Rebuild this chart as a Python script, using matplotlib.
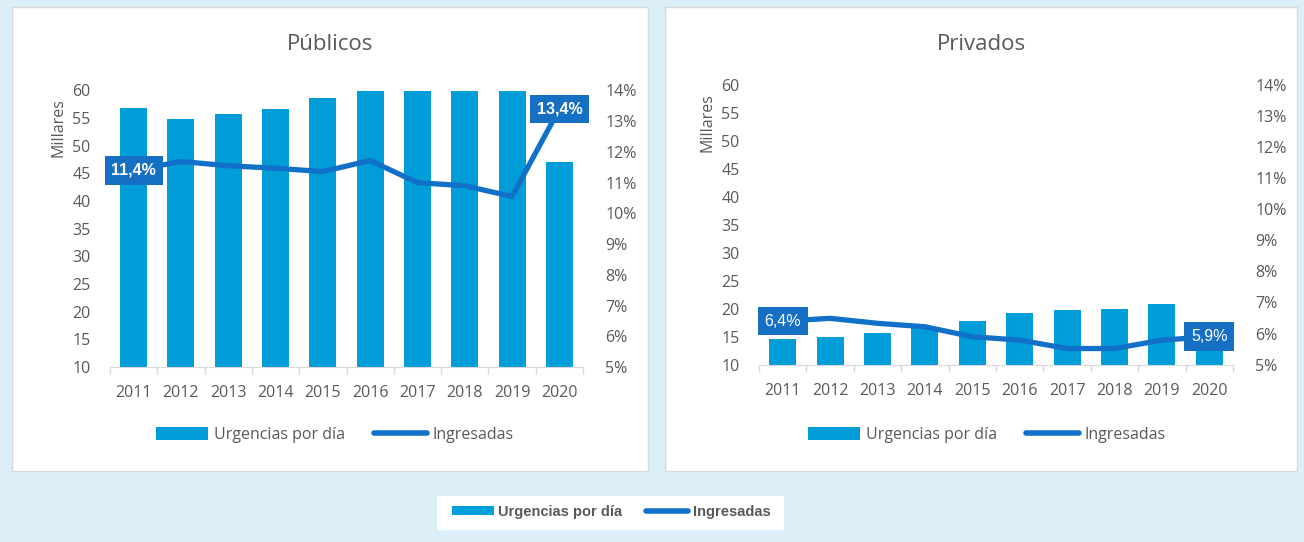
import matplotlib
matplotlib.use("Agg")
import matplotlib.pyplot as plt
from matplotlib.patches import Rectangle, Patch
from matplotlib.lines import Line2D
from matplotlib.ticker import FuncFormatter

# data
years = ["2011", "2012", "2013", "2014", "2015", "2016", "2017", "2018", "2019", "2020"]

# urgencias por dia (millares); publicos 2016-2019 exceed the 60 axis top
pub_urg = [56.9, 54.9, 55.7, 56.6, 58.7, 61.5, 62.0, 62.3, 62.8, 47.0]
pub_ing = [0.114, 0.1169, 0.1155, 0.1147, 0.1136, 0.1172, 0.1100, 0.1090, 0.1055, 0.134]

priv_urg = [14.6, 14.9, 15.6, 16.7, 17.8, 19.3, 19.8, 20.0, 20.9, 13.5]
priv_ing = [0.064, 0.0649, 0.0633, 0.0622, 0.0590, 0.0579, 0.0552, 0.0552, 0.0579, 0.059]

bar_color = "#009DD9"
line_color = "#1170C8"
box_color = "#1570C4"
text_gray = "#595959"
bg_color = "#DCEEF7"

plt.rcParams["font.family"] = ["Open Sans", "DejaVu Sans"]

fig = plt.figure(figsize=(13.04, 5.42), dpi=100)
fig.patch.set_facecolor(bg_color)

W, H = 1304.0, 542.0


def px_rect(x0, y0, x1, y1, **kw):
    # rectangle given in pixel coords (top-left origin)
    fig.patches.append(Rectangle((x0 / W, 1 - y1 / H), (x1 - x0) / W, (y1 - y0) / H,
                                 transform=fig.transFigure, zorder=-5, **kw))


px_rect(12, 7, 648, 471, facecolor="white", edgecolor="#D9D9D9", lw=1)
px_rect(665, 7, 1297, 471, facecolor="white", edgecolor="#D9D9D9", lw=1)
px_rect(437, 496, 784, 530, facecolor="white", edgecolor="none")


def draw_panel(rect, title, urg, ing, first_lbl, last_lbl, bold_lbl, leg_x, title_x):
    ax = fig.add_axes(rect)
    ax.set_facecolor("none")
    x = list(range(len(years)))
    ax.bar(x, urg, width=0.57, color=bar_color, zorder=2)
    ax.set_ylim(10, 60)
    ax.set_xlim(-0.5, len(years) - 0.5)
    ax.set_yticks(range(10, 61, 5))
    ax.set_xticks(x)
    ax.set_xticklabels(years)
    ax.set_xticks([i - 0.5 for i in range(len(years) + 1)], minor=True)
    ax.tick_params(axis="x", which="major", length=0, pad=13, labelsize=11.5, labelcolor=text_gray)
    ax.tick_params(axis="x", which="minor", length=5, color="#D9D9D9", width=1)
    ax.tick_params(axis="y", length=0, pad=14, labelsize=11.5, labelcolor=text_gray)
    for s in ["top", "right", "left"]:
        ax.spines[s].set_visible(False)
    ax.spines["bottom"].set_color("#D9D9D9")
    ax.set_ylabel("Millares", fontsize=11.5, color=text_gray)
    ax.yaxis.set_label_coords(-0.092, 0.865)

    ax2 = ax.twinx()
    ax2.plot(x, ing, color=line_color, lw=3.8, solid_joinstyle="round",
             solid_capstyle="round", zorder=3)
    ax2.set_ylim(0.05, 0.14)
    ax2.set_yticks([i / 100 for i in range(5, 15)])
    ax2.yaxis.set_major_formatter(FuncFormatter(lambda v, p: "%d%%" % round(v * 100)))
    ax2.tick_params(axis="y", length=0, pad=16, labelsize=11.5, labelcolor=text_gray)
    for s in ["top", "right", "left", "bottom"]:
        ax2.spines[s].set_visible(False)

    weight = "bold" if bold_lbl else "normal"
    for xi, yi, lbl in [(0, ing[0], first_lbl), (len(x) - 1, ing[-1], last_lbl)]:
        ax2.text(xi, yi, lbl, ha="center", va="center", color="white", fontsize=11.5,
                 fontweight=weight, family=["Liberation Sans", "DejaVu Sans"], zorder=5,
                 bbox=dict(boxstyle="square,pad=0.42", fc=box_color, ec="none"))

    fig.text(title_x, 1 - 44 / H, title, ha="center", va="center", fontsize=16, color=text_gray)

    handles = [Patch(facecolor=bar_color, edgecolor="none"),
               Line2D([0], [0], color=line_color, lw=4, solid_capstyle="round")]
    fig.legend(handles, ["Urgencias por día", "Ingresadas"], loc="center",
               bbox_to_anchor=(leg_x, 1 - 435 / H), ncol=2, frameon=False,
               fontsize=11.5, labelcolor=text_gray, handlelength=3.3, handleheight=0.8,
               columnspacing=1.8, handletextpad=0.35)
    return ax


draw_panel([110 / W, 1 - 367 / H, 473 / W, 276.5 / H], "Públicos", pub_urg, pub_ing,
           "11,4%", "13,4%", True, 334.5 / W, 330 / W)
draw_panel([759 / W, 1 - 364.7 / H, 474 / W, 280 / H], "Privados", priv_urg, priv_ing,
           "6,4%", "5,9%", False, 986.5 / W, 981 / W)

# common legend at the bottom
handles = [Patch(facecolor="#00A0DD", edgecolor="none"),
           Line2D([0], [0], color=line_color, lw=4, solid_capstyle="round")]
leg = fig.legend(handles, ["Urgencias por día", "Ingresadas"], loc="center",
                 bbox_to_anchor=(611 / W, 1 - 512 / H), ncol=2, frameon=False,
                 handlelength=2.9, handleheight=0.6, columnspacing=1.6, handletextpad=0.3,
                 prop={"family": ["Liberation Sans", "DejaVu Sans"], "weight": "bold", "size": 10.5})
for t in leg.get_texts():
    t.set_color(text_gray)

fig.savefig("out.png", dpi=100, facecolor=fig.get_facecolor())
